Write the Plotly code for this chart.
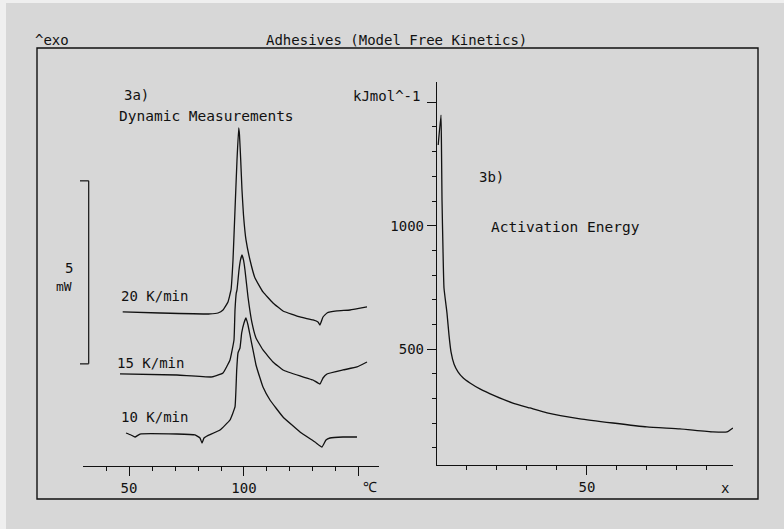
import plotly.graph_objects as go

# ---------------- data ----------------
# DSC curves (temperature in degC, heat flow in mW incl. vertical offsets)
t20 = [47.26, 63.48, 85.22, 88.70, 90.87, 93.04, 94.35, 95.22, 96.09, 96.96, 97.70, 98.04,
       98.57, 99.13, 99.78, 100.87, 102.61, 104.78, 108.26, 112.61, 116.96, 124.35, 130.0,
       132.17, 133.04, 134.35, 136.09, 140.43, 146.09, 153.48]
q20 = [4.208, 4.180, 4.153, 4.180, 4.262, 4.481, 4.809, 5.628, 6.995, 8.361, 9.235, 9.044,
       8.361, 7.541, 6.858, 6.175, 5.628, 5.137, 4.754, 4.454, 4.235, 4.071, 3.989,
       3.934, 3.852, 4.071, 4.180, 4.235, 4.262, 4.344]

t15 = [46.09, 70.87, 86.09, 90.87, 93.91, 95.65, 96.09, 96.65, 96.96, 97.83, 98.48, 99.13,
       99.78, 100.43, 101.74, 103.48, 105.22, 108.26, 112.61, 116.96, 124.35, 130.0, 133.04,
       134.35, 136.09, 143.04, 149.13, 153.48]
q15 = [2.514, 2.486, 2.432, 2.541, 2.896, 3.443, 4.262, 4.727, 4.809, 5.355, 5.628, 5.765,
       5.628, 5.355, 4.617, 3.907, 3.497, 3.169, 2.842, 2.623, 2.459, 2.350, 2.240,
       2.404, 2.514, 2.623, 2.705, 2.842]

t10 = [48.70, 50.87, 52.61, 54.78, 70.87, 78.70, 80.87, 81.74, 82.61, 83.91, 89.57, 93.91,
       96.09, 96.83, 97.39, 98.26, 99.0, 100.0, 100.87, 101.74, 102.61, 103.91, 105.22,
       106.96, 108.26, 111.30, 116.96, 124.35, 130.87, 133.91, 135.65, 137.39, 143.04, 149.13]
q10 = [0.902, 0.847, 0.792, 0.874, 0.874, 0.847, 0.765, 0.628, 0.765, 0.820, 0.984, 1.257,
       1.612, 2.623, 3.087, 3.224, 3.634, 3.907, 4.044, 3.852, 3.579, 3.169, 2.760,
       2.404, 2.158, 1.803, 1.339, 0.929, 0.656, 0.519, 0.710, 0.765, 0.792, 0.792]

# Activation energy (conversion %, kJ/mol)
conv = [0.4, 1.33, 1.5, 1.67, 2.0, 2.33, 3.33, 4.0, 4.67, 5.67, 7.0, 8.67, 11.0, 14.3, 19.3,
        25.3, 31.0, 36.7, 47.7, 58.7, 70.0, 81.0, 92.0, 96.7, 98.7]
ea = [1327, 1448, 1307, 1104, 902, 748, 646, 557, 489, 440, 408, 384, 363, 339, 311,
      282, 262, 242, 218, 201, 185, 177, 165, 165, 181]

scale_base = 2.79   # mW, bottom of the 5 mW scale bar
scale_len = 5.0     # mW

W, H = 784, 529
FONT = "DejaVu Sans Mono"
INK = "#111111"
BG = "#d7d7d7"


def px(x):
    return x / W


def py(y):
    return 1 - y / H


fig = go.Figure()
line = dict(color=INK, width=1.3, shape="spline", smoothing=0.3)
for t, q in [(t20, q20), (t15, q15), (t10, q10)]:
    fig.add_trace(go.Scatter(x=t, y=q, mode="lines", line=line, xaxis="x", yaxis="y",
                             showlegend=False, hoverinfo="skip"))
fig.add_trace(go.Scatter(x=conv, y=ea, mode="lines", line=dict(color=INK, width=1.3, shape="spline", smoothing=0.4),
                         xaxis="x2", yaxis="y2", showlegend=False, hoverinfo="skip"))

tickfont = dict(family=FONT, size=14, color=INK)

fig.update_layout(
    width=W, height=H, autosize=False,
    margin=dict(l=0, r=0, t=0, b=0),
    paper_bgcolor="#efefef", plot_bgcolor=BG,
    xaxis=dict(domain=[px(83), px(379)], range=[30, 158.7], showgrid=False, zeroline=False,
               showline=True, linecolor=INK, linewidth=1.3, anchor="y",
               ticks="outside", ticklen=9, tickwidth=1.2, tickcolor=INK,
               tickmode="array", tickvals=[50, 100, 150], ticktext=["50", "100", ""],
               tickfont=tickfont,
               minor=dict(tickmode="array", tickvals=[40, 60, 70, 80, 90, 110, 120, 130, 140],
                          ticklen=4, tickwidth=1.1, tickcolor=INK, ticks="outside")),
    yaxis=dict(domain=[py(466), py(82)], range=[0, 10.49], visible=False, anchor="x"),
    xaxis2=dict(domain=[px(437), px(733)], range=[0, 98.7], showgrid=False, zeroline=False,
                showline=True, linecolor=INK, linewidth=1.3, anchor="y2",
                ticks="outside", ticklen=9, tickwidth=1.2, tickcolor=INK,
                tickmode="array", tickvals=[50], ticktext=["50"], tickfont=tickfont,
                minor=dict(tickmode="array", tickvals=[10, 20, 30, 40, 60, 70, 80, 90],
                           ticklen=4, tickwidth=1.1, tickcolor=INK, ticks="outside")),
    yaxis2=dict(domain=[py(465), py(82)], range=[31, 1582], showgrid=False, zeroline=False,
                showline=True, linecolor=INK, linewidth=1.3, anchor="x2",
                ticks="outside", ticklen=9, tickwidth=1.2, tickcolor=INK,
                tickmode="array", tickvals=[500, 1000, 1500], ticktext=["500", "1000", ""],
                tickfont=tickfont,
                minor=dict(tickmode="array",
                           tickvals=[100, 200, 300, 400, 600, 700, 800, 900, 1100, 1200, 1300, 1400],
                           ticklen=4, tickwidth=1.1, tickcolor=INK, ticks="outside")),
)

shapes = [
    # background (lighter strip at left/top edge as in scan)
    dict(type="rect", xref="paper", yref="paper", x0=px(6), x1=1, y0=0, y1=py(3),
         fillcolor=BG, line=dict(width=0), layer="below"),
    # outer frame
    dict(type="rect", xref="paper", yref="paper", x0=px(37), x1=px(758), y0=py(499), y1=py(48),
         line=dict(color=INK, width=1.4)),
    # 5 mW scale bar
    dict(type="line", xref="paper", yref="y", x0=px(88.7), x1=px(88.7),
         y0=scale_base, y1=scale_base + scale_len, line=dict(color=INK, width=1.2)),
    dict(type="line", xref="paper", yref="y", x0=px(80), x1=px(88.7),
         y0=scale_base + scale_len, y1=scale_base + scale_len, line=dict(color=INK, width=1.2)),
    dict(type="line", xref="paper", yref="y", x0=px(80), x1=px(88.7),
         y0=scale_base, y1=scale_base, line=dict(color=INK, width=1.2)),
]
fig.update_layout(shapes=shapes)

texts = [
    ("^exo", 51.5, 40, 14),
    ("Adhesives (Model Free Kinetics)", 396.5, 40, 14),
    ("3a)", 136, 95, 14),
    ("Dynamic Measurements", 207, 116, 14.5),
    ("kJmol^-1", 386, 96, 14),
    ("3b)", 491, 177, 14),
    ("Activation Energy", 565, 227, 14.5),
    ("20 K/min", 154, 296, 14),
    ("15 K/min", 150, 363, 14),
    ("10 K/min", 154, 417, 14),
    ("5", 69, 268, 14),
    ("mW", 64, 286, 13),
    ("℃", 370, 487, 14),
    ("x", 725, 488, 14),
]
for s, x, y, size in texts:
    fig.add_annotation(text=s, x=px(x), y=py(y), xref="paper", yref="paper",
                       xanchor="center", yanchor="middle", showarrow=False,
                       font=dict(family=FONT, size=size, color=INK))

fig.write_html("out.html", config={"displayModeBar": False},
               post_script="document.body.style.margin='0px';document.body.style.overflow='hidden';")
